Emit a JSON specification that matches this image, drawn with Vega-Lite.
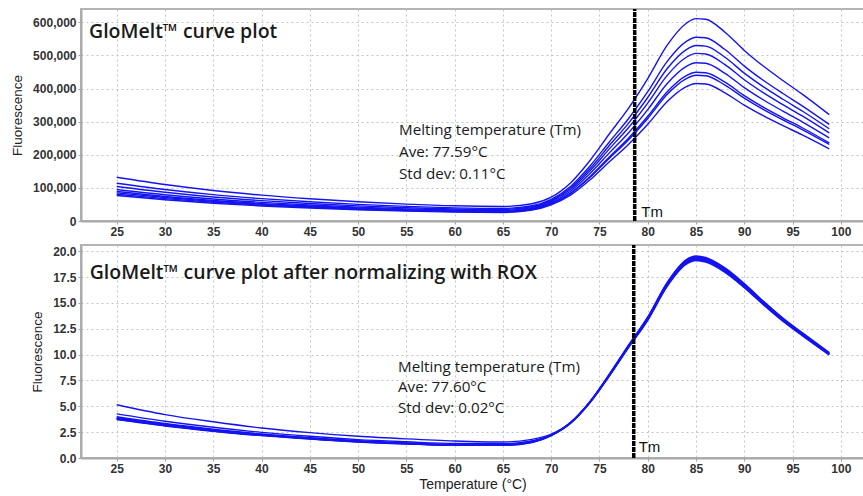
{
  "$schema": "https://vega.github.io/schema/vega-lite/v6.json",
  "padding": {"left": 9, "top": 6, "right": 0, "bottom": 0},
  "spacing": 4,
  "background": "white",
  "config": {
    "view": {"stroke": "#b4b4b4", "strokeWidth": 2},
    "axis": {
      "domainColor": "#a8a8a8", "domainWidth": 2,
      "tickColor": "#a0a0a0", "tickSize": 3,
      "labelFont": "Liberation Sans", "labelFontWeight": "bold", "labelFontSize": 12, "labelColor": "#333333",
      "titleFont": "Liberation Sans", "titleFontWeight": "normal", "titleColor": "#222222",
      "gridColor": "#c4c4c4", "gridDash": [2, 3], "gridWidth": 1
    }
  },
  "datasets": {
    "top": [
      {"s":1,"t":25,"v":132000},{"s":1,"t":30,"v":110000},{"s":1,"t":35,"v":92000},{"s":1,"t":40,"v":78000},{"s":1,"t":45,"v":67000},{"s":1,"t":50,"v":58000},{"s":1,"t":55,"v":51000},{"s":1,"t":60,"v":46000},{"s":1,"t":65,"v":44000},{"s":1,"t":68,"v":52000},{"s":1,"t":70,"v":72000},{"s":1,"t":72,"v":115000},{"s":1,"t":74,"v":182000},{"s":1,"t":76,"v":262000},{"s":1,"t":78,"v":340000},{"s":1,"t":80,"v":430000},{"s":1,"t":82,"v":530000},{"s":1,"t":84,"v":597000},{"s":1,"t":85,"v":611000},{"s":1,"t":86,"v":609000},{"s":1,"t":88,"v":570000},{"s":1,"t":90,"v":515000},{"s":1,"t":92,"v":467000},{"s":1,"t":94,"v":424000},{"s":1,"t":96,"v":383000},{"s":1,"t":98.8,"v":321000},
      {"s":2,"t":25,"v":114000},{"s":2,"t":30,"v":95000},{"s":2,"t":35,"v":79500},{"s":2,"t":40,"v":67400},{"s":2,"t":45,"v":57900},{"s":2,"t":50,"v":50100},{"s":2,"t":55,"v":44100},{"s":2,"t":60,"v":39700},{"s":2,"t":65,"v":38000},{"s":2,"t":68,"v":46100},{"s":2,"t":70,"v":65400},{"s":2,"t":72,"v":104400},{"s":2,"t":74,"v":165300},{"s":2,"t":76,"v":237900},{"s":2,"t":78,"v":308700},{"s":2,"t":80,"v":390400},{"s":2,"t":82,"v":481200},{"s":2,"t":84,"v":542100},{"s":2,"t":85,"v":554800},{"s":2,"t":86,"v":553000},{"s":2,"t":88,"v":517600},{"s":2,"t":90,"v":467600},{"s":2,"t":92,"v":424000},{"s":2,"t":94,"v":385000},{"s":2,"t":96,"v":347800},{"s":2,"t":98.8,"v":291500},
      {"s":3,"t":25,"v":104000},{"s":3,"t":30,"v":86700},{"s":3,"t":35,"v":72500},{"s":3,"t":40,"v":61500},{"s":3,"t":45,"v":52800},{"s":3,"t":50,"v":45700},{"s":3,"t":55,"v":40200},{"s":3,"t":60,"v":36200},{"s":3,"t":65,"v":34700},{"s":3,"t":68,"v":43100},{"s":3,"t":70,"v":62400},{"s":3,"t":72,"v":99700},{"s":3,"t":74,"v":157800},{"s":3,"t":76,"v":227200},{"s":3,"t":78,"v":294800},{"s":3,"t":80,"v":372800},{"s":3,"t":82,"v":459500},{"s":3,"t":84,"v":517600},{"s":3,"t":85,"v":529700},{"s":3,"t":86,"v":528000},{"s":3,"t":88,"v":494200},{"s":3,"t":90,"v":446500},{"s":3,"t":92,"v":404900},{"s":3,"t":94,"v":367600},{"s":3,"t":96,"v":332100},{"s":3,"t":98.8,"v":278300},
      {"s":4,"t":25,"v":95000},{"s":4,"t":30,"v":79200},{"s":4,"t":35,"v":66200},{"s":4,"t":40,"v":56200},{"s":4,"t":45,"v":48200},{"s":4,"t":50,"v":41800},{"s":4,"t":55,"v":36700},{"s":4,"t":60,"v":33100},{"s":4,"t":65,"v":31700},{"s":4,"t":68,"v":40200},{"s":4,"t":70,"v":59600},{"s":4,"t":72,"v":95200},{"s":4,"t":74,"v":150700},{"s":4,"t":76,"v":216900},{"s":4,"t":78,"v":281500},{"s":4,"t":80,"v":356000},{"s":4,"t":82,"v":438800},{"s":4,"t":84,"v":494300},{"s":4,"t":85,"v":505900},{"s":4,"t":86,"v":504300},{"s":4,"t":88,"v":472000},{"s":4,"t":90,"v":426400},{"s":4,"t":92,"v":386700},{"s":4,"t":94,"v":351100},{"s":4,"t":96,"v":317100},{"s":4,"t":98.8,"v":265800},
      {"s":5,"t":25,"v":89000},{"s":5,"t":30,"v":74100},{"s":5,"t":35,"v":62000},{"s":5,"t":40,"v":52600},{"s":5,"t":45,"v":45200},{"s":5,"t":50,"v":39100},{"s":5,"t":55,"v":34400},{"s":5,"t":60,"v":31000},{"s":5,"t":65,"v":29700},{"s":5,"t":68,"v":37900},{"s":5,"t":70,"v":56300},{"s":5,"t":72,"v":89900},{"s":5,"t":74,"v":142300},{"s":5,"t":76,"v":204900},{"s":5,"t":78,"v":265900},{"s":5,"t":80,"v":336300},{"s":5,"t":82,"v":414500},{"s":5,"t":84,"v":466900},{"s":5,"t":85,"v":477800},{"s":5,"t":86,"v":476200},{"s":5,"t":88,"v":445700},{"s":5,"t":90,"v":402700},{"s":5,"t":92,"v":365200},{"s":5,"t":94,"v":331600},{"s":5,"t":96,"v":299500},{"s":5,"t":98.8,"v":251000},
      {"s":6,"t":25,"v":85000},{"s":6,"t":30,"v":70800},{"s":6,"t":35,"v":59200},{"s":6,"t":40,"v":50200},{"s":6,"t":45,"v":43100},{"s":6,"t":50,"v":37400},{"s":6,"t":55,"v":32800},{"s":6,"t":60,"v":29600},{"s":6,"t":65,"v":28300},{"s":6,"t":68,"v":35900},{"s":6,"t":70,"v":52900},{"s":6,"t":72,"v":84500},{"s":6,"t":74,"v":133800},{"s":6,"t":76,"v":192600},{"s":6,"t":78,"v":249900},{"s":6,"t":80,"v":316100},{"s":6,"t":82,"v":389600},{"s":6,"t":84,"v":438800},{"s":6,"t":85,"v":449100},{"s":6,"t":86,"v":447600},{"s":6,"t":88,"v":419000},{"s":6,"t":90,"v":378500},{"s":6,"t":92,"v":343200},{"s":6,"t":94,"v":311600},{"s":6,"t":96,"v":281500},{"s":6,"t":98.8,"v":235900},
      {"s":7,"t":25,"v":81000},{"s":7,"t":30,"v":67500},{"s":7,"t":35,"v":56500},{"s":7,"t":40,"v":47900},{"s":7,"t":45,"v":41100},{"s":7,"t":50,"v":35600},{"s":7,"t":55,"v":31300},{"s":7,"t":60,"v":28200},{"s":7,"t":65,"v":27000},{"s":7,"t":68,"v":34700},{"s":7,"t":70,"v":51800},{"s":7,"t":72,"v":82800},{"s":7,"t":74,"v":131000},{"s":7,"t":76,"v":188600},{"s":7,"t":78,"v":244800},{"s":7,"t":80,"v":309600},{"s":7,"t":82,"v":381600},{"s":7,"t":84,"v":429800},{"s":7,"t":85,"v":439900},{"s":7,"t":86,"v":438500},{"s":7,"t":88,"v":410400},{"s":7,"t":90,"v":370800},{"s":7,"t":92,"v":336200},{"s":7,"t":94,"v":305300},{"s":7,"t":96,"v":275800},{"s":7,"t":98.8,"v":231100},
      {"s":8,"t":25,"v":77000},{"s":8,"t":30,"v":64100},{"s":8,"t":35,"v":53600},{"s":8,"t":40,"v":45500},{"s":8,"t":45,"v":39100},{"s":8,"t":50,"v":33800},{"s":8,"t":55,"v":29700},{"s":8,"t":60,"v":26800},{"s":8,"t":65,"v":25700},{"s":8,"t":68,"v":32800},{"s":8,"t":70,"v":48900},{"s":8,"t":72,"v":78100},{"s":8,"t":74,"v":123600},{"s":8,"t":76,"v":177900},{"s":8,"t":78,"v":230900},{"s":8,"t":80,"v":292000},{"s":8,"t":82,"v":359900},{"s":8,"t":84,"v":405400},{"s":8,"t":85,"v":414900},{"s":8,"t":86,"v":413500},{"s":8,"t":88,"v":387000},{"s":8,"t":90,"v":349700},{"s":8,"t":92,"v":317100},{"s":8,"t":94,"v":287900},{"s":8,"t":96,"v":260100},{"s":8,"t":98.8,"v":218000}
    ],
    "bottom": [
      {"s":1,"t":25,"v":5.15},{"s":1,"t":30,"v":4.2},{"s":1,"t":35,"v":3.5},{"s":1,"t":40,"v":2.9},{"s":1,"t":45,"v":2.45},{"s":1,"t":50,"v":2.1},{"s":1,"t":55,"v":1.85},{"s":1,"t":60,"v":1.65},{"s":1,"t":65,"v":1.55},{"s":1,"t":68,"v":1.8},{"s":1,"t":70,"v":2.3},{"s":1,"t":72,"v":3.43},{"s":1,"t":74,"v":5.45},{"s":1,"t":76,"v":8.08},{"s":1,"t":78,"v":10.91},{"s":1,"t":80,"v":13.64},{"s":1,"t":82,"v":16.97},{"s":1,"t":84,"v":19.19},{"s":1,"t":85,"v":19.54},{"s":1,"t":86,"v":19.39},{"s":1,"t":88,"v":18.38},{"s":1,"t":90,"v":16.87},{"s":1,"t":92,"v":15.15},{"s":1,"t":94,"v":13.53},{"s":1,"t":96,"v":12.12},{"s":1,"t":98.8,"v":10.2},
      {"s":2,"t":25,"v":4.27},{"s":2,"t":30,"v":3.56},{"s":2,"t":35,"v":2.97},{"s":2,"t":40,"v":2.48},{"s":2,"t":45,"v":2.1},{"s":2,"t":50,"v":1.78},{"s":2,"t":55,"v":1.57},{"s":2,"t":60,"v":1.4},{"s":2,"t":65,"v":1.38},{"s":2,"t":68,"v":1.65},{"s":2,"t":70,"v":2.21},{"s":2,"t":72,"v":3.42},{"s":2,"t":74,"v":5.43},{"s":2,"t":76,"v":8.04},{"s":2,"t":78,"v":10.85},{"s":2,"t":80,"v":13.57},{"s":2,"t":82,"v":16.88},{"s":2,"t":84,"v":19.1},{"s":2,"t":85,"v":19.45},{"s":2,"t":86,"v":19.3},{"s":2,"t":88,"v":18.29},{"s":2,"t":90,"v":16.78},{"s":2,"t":92,"v":15.08},{"s":2,"t":94,"v":13.47},{"s":2,"t":96,"v":12.06},{"s":2,"t":98.8,"v":10.15},
      {"s":3,"t":25,"v":3.99},{"s":3,"t":30,"v":3.33},{"s":3,"t":35,"v":2.78},{"s":3,"t":40,"v":2.32},{"s":3,"t":45,"v":1.97},{"s":3,"t":50,"v":1.67},{"s":3,"t":55,"v":1.46},{"s":3,"t":60,"v":1.31},{"s":3,"t":65,"v":1.31},{"s":3,"t":68,"v":1.62},{"s":3,"t":70,"v":2.21},{"s":3,"t":72,"v":3.41},{"s":3,"t":74,"v":5.42},{"s":3,"t":76,"v":8.02},{"s":3,"t":78,"v":10.83},{"s":3,"t":80,"v":13.54},{"s":3,"t":82,"v":16.85},{"s":3,"t":84,"v":19.06},{"s":3,"t":85,"v":19.41},{"s":3,"t":86,"v":19.26},{"s":3,"t":88,"v":18.25},{"s":3,"t":90,"v":16.75},{"s":3,"t":92,"v":15.05},{"s":3,"t":94,"v":13.44},{"s":3,"t":96,"v":12.04},{"s":3,"t":98.8,"v":10.13},
      {"s":4,"t":25,"v":3.91},{"s":4,"t":30,"v":3.27},{"s":4,"t":35,"v":2.72},{"s":4,"t":40,"v":2.28},{"s":4,"t":45,"v":1.93},{"s":4,"t":50,"v":1.63},{"s":4,"t":55,"v":1.44},{"s":4,"t":60,"v":1.29},{"s":4,"t":65,"v":1.29},{"s":4,"t":68,"v":1.58},{"s":4,"t":70,"v":2.2},{"s":4,"t":72,"v":3.4},{"s":4,"t":74,"v":5.4},{"s":4,"t":76,"v":8.0},{"s":4,"t":78,"v":10.8},{"s":4,"t":80,"v":13.5},{"s":4,"t":82,"v":16.8},{"s":4,"t":84,"v":19.0},{"s":4,"t":85,"v":19.35},{"s":4,"t":86,"v":19.2},{"s":4,"t":88,"v":18.2},{"s":4,"t":90,"v":16.7},{"s":4,"t":92,"v":15.0},{"s":4,"t":94,"v":13.4},{"s":4,"t":96,"v":12.0},{"s":4,"t":98.8,"v":10.1},
      {"s":5,"t":25,"v":3.85},{"s":5,"t":30,"v":3.22},{"s":5,"t":35,"v":2.68},{"s":5,"t":40,"v":2.24},{"s":5,"t":45,"v":1.9},{"s":5,"t":50,"v":1.61},{"s":5,"t":55,"v":1.41},{"s":5,"t":60,"v":1.27},{"s":5,"t":65,"v":1.27},{"s":5,"t":68,"v":1.56},{"s":5,"t":70,"v":2.19},{"s":5,"t":72,"v":3.39},{"s":5,"t":74,"v":5.38},{"s":5,"t":76,"v":7.98},{"s":5,"t":78,"v":10.77},{"s":5,"t":80,"v":13.46},{"s":5,"t":82,"v":16.75},{"s":5,"t":84,"v":18.94},{"s":5,"t":85,"v":19.29},{"s":5,"t":86,"v":19.14},{"s":5,"t":88,"v":18.15},{"s":5,"t":90,"v":16.65},{"s":5,"t":92,"v":14.96},{"s":5,"t":94,"v":13.36},{"s":5,"t":96,"v":11.96},{"s":5,"t":98.8,"v":10.07},
      {"s":6,"t":25,"v":3.79},{"s":6,"t":30,"v":3.17},{"s":6,"t":35,"v":2.64},{"s":6,"t":40,"v":2.21},{"s":6,"t":45,"v":1.87},{"s":6,"t":50,"v":1.58},{"s":6,"t":55,"v":1.39},{"s":6,"t":60,"v":1.25},{"s":6,"t":65,"v":1.25},{"s":6,"t":68,"v":1.54},{"s":6,"t":70,"v":2.19},{"s":6,"t":72,"v":3.38},{"s":6,"t":74,"v":5.37},{"s":6,"t":76,"v":7.96},{"s":6,"t":78,"v":10.75},{"s":6,"t":80,"v":13.43},{"s":6,"t":82,"v":16.72},{"s":6,"t":84,"v":18.91},{"s":6,"t":85,"v":19.25},{"s":6,"t":86,"v":19.1},{"s":6,"t":88,"v":18.11},{"s":6,"t":90,"v":16.62},{"s":6,"t":92,"v":14.93},{"s":6,"t":94,"v":13.33},{"s":6,"t":96,"v":11.94},{"s":6,"t":98.8,"v":10.05},
      {"s":7,"t":25,"v":3.75},{"s":7,"t":30,"v":3.14},{"s":7,"t":35,"v":2.61},{"s":7,"t":40,"v":2.19},{"s":7,"t":45,"v":1.85},{"s":7,"t":50,"v":1.57},{"s":7,"t":55,"v":1.38},{"s":7,"t":60,"v":1.24},{"s":7,"t":65,"v":1.24},{"s":7,"t":68,"v":1.52},{"s":7,"t":70,"v":2.18},{"s":7,"t":72,"v":3.37},{"s":7,"t":74,"v":5.35},{"s":7,"t":76,"v":7.92},{"s":7,"t":78,"v":10.69},{"s":7,"t":80,"v":13.37},{"s":7,"t":82,"v":16.63},{"s":7,"t":84,"v":18.81},{"s":7,"t":85,"v":19.16},{"s":7,"t":86,"v":19.01},{"s":7,"t":88,"v":18.02},{"s":7,"t":90,"v":16.53},{"s":7,"t":92,"v":14.85},{"s":7,"t":94,"v":13.27},{"s":7,"t":96,"v":11.88},{"s":7,"t":98.8,"v":10.0},
      {"s":8,"t":25,"v":3.71},{"s":8,"t":30,"v":3.1},{"s":8,"t":35,"v":2.59},{"s":8,"t":40,"v":2.16},{"s":8,"t":45,"v":1.83},{"s":8,"t":50,"v":1.55},{"s":8,"t":55,"v":1.36},{"s":8,"t":60,"v":1.22},{"s":8,"t":65,"v":1.22},{"s":8,"t":68,"v":1.5},{"s":8,"t":70,"v":2.17},{"s":8,"t":72,"v":3.36},{"s":8,"t":74,"v":5.33},{"s":8,"t":76,"v":7.9},{"s":8,"t":78,"v":10.66},{"s":8,"t":80,"v":13.32},{"s":8,"t":82,"v":16.58},{"s":8,"t":84,"v":18.75},{"s":8,"t":85,"v":19.1},{"s":8,"t":86,"v":18.95},{"s":8,"t":88,"v":17.96},{"s":8,"t":90,"v":16.48},{"s":8,"t":92,"v":14.81},{"s":8,"t":94,"v":13.23},{"s":8,"t":96,"v":11.84},{"s":8,"t":98.8,"v":9.97}
    ]
  },
  "vconcat": [
    {
      "width": 783,
      "height": 212,
      "encoding": {
        "x": {"field": "t", "type": "quantitative", "scale": {"domain": [21.3, 102.4], "nice": false, "zero": false},
              "axis": {"values": [25,30,35,40,45,50,55,60,65,70,75,80,85,90,95,100], "title": null, "labelPadding": 2, "tickSize": 3}},
        "y": {"field": "v", "type": "quantitative", "scale": {"domain": [0, 640000], "nice": false},
              "axis": {"values": [0,100000,200000,300000,400000,500000,600000], "labelExpr": "replace(format(datum.value, '.0f'), /(\\d)(?=(\\d{3})+$)/g, '$1,')", "title": "Fluorescence", "titleFontSize": 13.5, "titlePadding": 8, "labelPadding": 2}}
      },
      "layer": [
        {
          "data": {"name": "top"},
          "mark": {"type": "line", "interpolate": "monotone", "strokeWidth": 1.4, "color": "#1414f0"},
          "encoding": {"detail": {"field": "s", "type": "nominal"}}
        },
        {
          "data": {"values": [{"t": 78.65, "v": 0, "v2": 640000}]},
          "mark": {"type": "rule", "color": "#000000", "strokeWidth": 3.5, "strokeDash": [5, 1]},
          "encoding": {"y2": {"field": "v2"}}
        },
        {
          "data": {"values": [{"t": 22.13, "v": 569700, "label": "GloMelt™ curve plot"}]},
          "mark": {"type": "text", "align": "left", "baseline": "middle", "font": "Open Sans", "fontSize": 19.5, "fontWeight": 600, "color": "#1a1a1a"},
          "encoding": {"text": {"field": "label"}}
        },
        {
          "data": {"values": [
            {"t": 54.24, "v": 275800, "label": "Melting temperature (Tm)"},
            {"t": 54.24, "v": 209000, "label": "Ave: 77.59°C"},
            {"t": 54.24, "v": 142400, "label": "Std dev: 0.11°C"}
          ]},
          "mark": {"type": "text", "align": "left", "baseline": "middle", "font": "Open Sans", "fontSize": 15.2, "color": "#1a1a1a"},
          "encoding": {"text": {"field": "label"}}
        },
        {
          "data": {"values": [{"t": 79.33, "v": 28200, "label": "Tm"}]},
          "mark": {"type": "text", "align": "left", "baseline": "middle", "font": "Liberation Sans", "fontSize": 15, "color": "#111111"},
          "encoding": {"text": {"field": "label"}}
        }
      ]
    },
    {
      "width": 783,
      "height": 213,
      "encoding": {
        "x": {"field": "t", "type": "quantitative", "scale": {"domain": [21.3, 102.4], "nice": false, "zero": false},
              "axis": {"values": [25,30,35,40,45,50,55,60,65,70,75,80,85,90,95,100], "title": "Temperature (°C)", "titleFontSize": 14, "titlePadding": 3, "labelPadding": 2, "tickSize": 3}},
        "y": {"field": "v", "type": "quantitative", "scale": {"domain": [0, 20.6], "nice": false},
              "axis": {"values": [0,2.5,5,7.5,10,12.5,15,17.5,20], "format": ".1f", "title": "Fluorescence", "titleFontSize": 13.5, "titlePadding": 8, "labelPadding": 2}}
      },
      "layer": [
        {
          "data": {"name": "bottom"},
          "mark": {"type": "line", "interpolate": "monotone", "strokeWidth": 1.4, "color": "#1414f0"},
          "encoding": {"detail": {"field": "s", "type": "nominal"}}
        },
        {
          "data": {"values": [{"t": 78.55, "v": 0, "v2": 20.6}]},
          "mark": {"type": "rule", "color": "#000000", "strokeWidth": 3.5, "strokeDash": [5, 1]},
          "encoding": {"y2": {"field": "v2"}}
        },
        {
          "data": {"values": [{"t": 22.2, "v": 17.87, "label": "GloMelt™ curve plot after normalizing with ROX"}]},
          "mark": {"type": "text", "align": "left", "baseline": "middle", "font": "Open Sans", "fontSize": 19.5, "fontWeight": 600, "color": "#1a1a1a"},
          "encoding": {"text": {"field": "label"}}
        },
        {
          "data": {"values": [
            {"t": 54.13, "v": 8.82, "label": "Melting temperature (Tm)"},
            {"t": 54.13, "v": 6.88, "label": "Ave: 77.60°C"},
            {"t": 54.13, "v": 4.79, "label": "Std dev: 0.02°C"}
          ]},
          "mark": {"type": "text", "align": "left", "baseline": "middle", "font": "Open Sans", "fontSize": 15.2, "color": "#1a1a1a"},
          "encoding": {"text": {"field": "label"}}
        },
        {
          "data": {"values": [{"t": 79.06, "v": 1.07, "label": "Tm"}]},
          "mark": {"type": "text", "align": "left", "baseline": "middle", "font": "Liberation Sans", "fontSize": 15, "color": "#111111"},
          "encoding": {"text": {"field": "label"}}
        }
      ]
    }
  ]
}
